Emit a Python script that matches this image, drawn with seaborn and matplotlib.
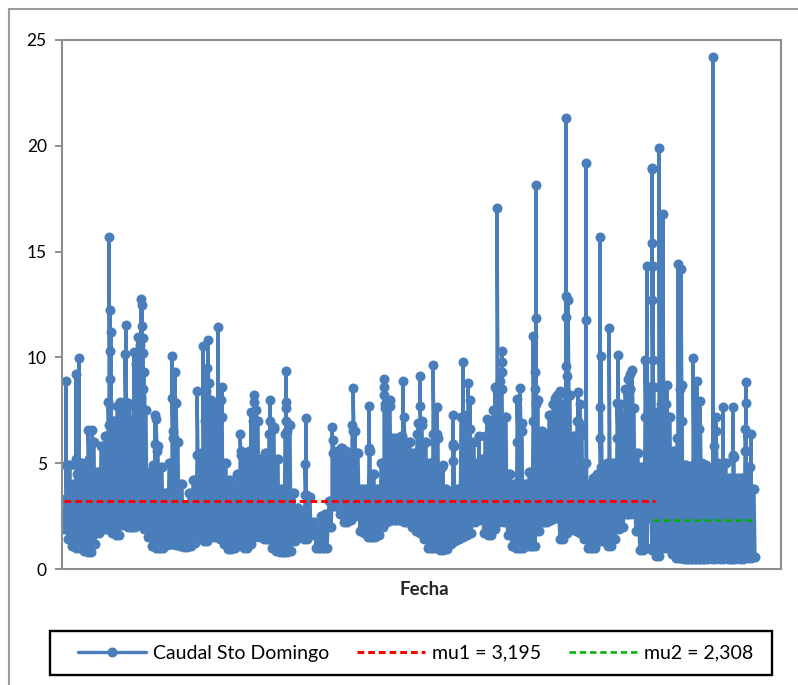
import numpy as np
import pandas as pd
import seaborn as sns
import matplotlib.pyplot as plt
from matplotlib.lines import Line2D
from matplotlib.patches import Rectangle

W, H = 798, 685
BLUE = "#4a7ebb"

# daily minima / maxima of the flow, one pair every 4 days
low_1 = [1.9,1.4,1.1,1.0,1.1,0.85,0.8,1.2,1.7,2.0,1.9,1.9,1.7,1.6,2.1,2.4,2.0,2.0,2.3,2.1,1.9,1.5,1.1,1.0,1.0,1.15,1.2,1.2,1.15,1.1,1.05,1.1,1.25,1.8,1.6,1.3,1.7,1.5,1.6,1.4,1.2,0.95,1.0]
high_1 = [3.3,4.9,4.0,4.5,5.0,4.8,5.2,6.0,4.6,5.8,6.3,6.8,7.0,7.7,7.4,7.2,7.8,7.0,7.5,8.5,7.5,4.6,4.9,5.8,4.8,3.6,5.0,6.2,6.0,4.0,3.0,3.6,4.2,5.4,5.5,7.0,7.5,6.5,7.6,7.2,5.0,4.2,3.9]
low_2 = [1.2,1.4,1.0,1.2,1.5,1.6,1.5,1.4,1.4,1.0,0.85,0.8,0.8,0.85,1.3,1.5,1.5,1.4,1.6,1.7,1.0,1.0,1.0,2.0,3.0,3.0,2.6,2.2,2.3,2.5,2.9,1.8,1.7,1.5,1.5,1.6,2.0,2.2,2.3,2.3,2.3,2.3,2.2]
high_2 = [4.5,5.4,5.5,5.6,7.0,7.0,5.2,5.5,6.4,6.6,5.2,3.8,6.4,6.8,3.6,2.9,2.6,3.5,3.4,2.2,1.9,2.5,2.6,3.2,5.5,5.6,5.7,5.6,5.2,6.5,5.5,3.8,3.8,5.6,4.5,3.8,5.0,7.6,7.7,6.2,6.2,6.3,6.0]
low_3 = [2.2,2.0,1.8,1.7,1.4,1.0,1.0,1.1,0.9,0.95,1.2,1.3,1.4,1.5,1.6,1.7,2.2,2.4,2.3,1.7,1.6,1.9,2.2,2.3,2.2,1.6,1.1,1.0,1.0,1.2,1.1,1.1,1.8,2.2,2.2,2.3,2.4,2.4,1.4,1.7,1.9,1.9,1.8]
high_3 = [6.0,5.5,6.4,6.8,6.0,5.0,6.4,6.2,4.8,3.8,3.5,5.8,3.8,7.2,7.2,6.6,6.0,5.0,5.2,6.3,7.0,7.5,8.4,8.5,7.2,4.5,4.0,6.0,6.5,4.0,4.6,7.0,8.0,6.5,6.4,7.3,7.8,8.2,7.8,8.3,8.2,6.3,7.0]
low_4 = [1.7,1.4,1.0,1.0,1.3,1.3,1.3,1.1,1.4,1.9,2.0,2.6,2.6,2.7,1.8,0.9,1.0,2.4,0.9,0.6,1.2,1.0,1.0,0.7,0.5,0.5,0.45,0.45,0.45,0.45,0.45,0.45,0.5,0.45,0.5,0.45,0.55,0.45,0.45,0.5,0.45,0.6,0.5,0.55]
high_4 = [6.4,5.0,4.0,4.3,4.5,4.8,4.7,5.0,5.0,6.2,7.0,7.8,8.5,7.6,5.5,4.8,7.2,8.6,8.6,7.4,7.8,7.8,7.2,5.6,6.2,7.0,4.9,4.6,4.9,5.0,5.0,4.9,4.7,4.8,5.0,4.9,5.0,4.3,5.3,4.3,4.3,5.6,4.8,3.8]

# flood peaks (day, flow)
peak_days_1 = [66,66,76,76,79,79,88,92,108,109,110,110,111,110,120,125,126,126,130,134,136,138,140,141,142,142,143,143,144,143,141,155,156,155,157,172,172,175,176,173,197,203,208,207,206,209,211,213,218,222,221,218]
peak_vals_1 = [8.9,4.9,9.2,5.2,9.95,4.7,6.55,6.55,7.9,15.7,12.25,10.3,11.2,9.0,7.9,10.15,11.55,7.9,7.8,10.25,9.7,10.95,10.6,12.75,12.5,11.5,10.9,10.2,9.3,8.5,8.1,7.3,7.1,5.9,5.6,10.05,8.1,9.3,7.85,6.5,8.4,10.55,10.8,9.5,8.4,8.8,8.0,7.9,11.45,8.6,8.0,7.4]
peak_days_2 = [240,241,254,254,251,256,270,270,273,274,286,286,286,286,287,305,306,306,332,333,353,352,355,369,369,384,384,384,385,390,403,404,401,420,420,418,422,433,434,437,437,443,453,453,453,463,468,470,466,479,487,490]
peak_vals_2 = [6.4,5.6,8.2,7.9,7.4,7.5,8.0,7.0,6.7,6.7,9.35,7.9,7.6,7.0,6.5,4.95,7.15,3.5,6.7,6.1,8.55,6.8,6.5,7.7,5.7,9.0,8.6,8.2,7.8,8.0,8.9,7.2,6.1,9.1,7.7,6.9,7.0,9.65,6.0,7.65,6.4,4.9,7.3,5.9,5.1,9.8,8.8,8.0,7.3,6.3,7.1,7.0]
peak_days_3 = [495,497,500,502,502,502,517,520,522,533,536,536,535,535,536,553,555,560,566,566,568,566,566,567,578,580,581,586,586,600,601,600,600,609,607,618,617,621,625,628,630,632,630]
peak_vals_3 = [8.6,17.05,8.9,10.3,9.8,9.3,8.05,8.55,6.9,11.0,18.15,11.85,9.3,8.5,7.8,7.8,8.1,8.4,21.3,12.9,12.7,11.9,9.6,9.1,8.35,7.8,6.8,19.2,11.75,15.7,10.05,7.65,6.2,11.4,5.0,10.1,7.85,7.8,8.5,9.0,9.2,9.4,8.5]
peak_days_4 = [645,647,652,652,652,653,652,653,653,659,663,667,678,681,680,682,693,697,700,699,713,714,716,716,713,723,733,733,746,746,745,751]
peak_vals_4 = [9.9,14.3,18.95,18.9,15.4,14.3,12.7,9.9,8.6,19.9,16.8,8.7,14.4,14.2,8.5,8.7,9.95,8.9,7.95,6.6,24.2,5.8,7.2,6.5,4.8,7.65,7.65,5.4,8.85,7.85,6.6,6.4]

mu1_days = [64, 655]
mu1_vals = [3.195, 3.195]
mu2_days = [653, 752]
mu2_vals = [2.308, 2.308]

y_ticks = [0, 5, 10, 15, 20, 25]
series_labels = ["Caudal Sto Domingo", "mu1 = 3,195", "mu2 = 2,308"]

low = low_1 + low_2 + low_3 + low_4
high = high_1 + high_2 + high_3 + high_4
# low, high, high, low, low ... so that the band comes out solid
base_a = np.column_stack([low, high]).ravel()
base_b = np.column_stack([high, low]).ravel()
days_a = 64 + 2*np.arange(len(base_a))
days_b = 65 + 2*np.arange(len(base_b))

days = np.concatenate([days_a, days_b, peak_days_1, peak_days_2, peak_days_3, peak_days_4])
vals = np.concatenate([base_a, base_b, peak_vals_1, peak_vals_2, peak_vals_3, peak_vals_4])
df = pd.DataFrame({"fecha": days, "caudal": vals}).sort_values("fecha", kind="mergesort")

sns.set_style("white")
plt.rcParams["font.family"] = ["Lato", "DejaVu Sans"]

fig = plt.figure(figsize=(W/100, H/100), dpi=100)
ax = fig.add_axes([62/W, 1-569/H, (781-62)/W, (569-40)/H])

sns.lineplot(data=df, x="fecha", y="caudal", sort=False, estimator=None, ax=ax, color=BLUE,
             linewidth=2.4, marker="o", markersize=7.2, markeredgewidth=0, legend=False)
sns.lineplot(x=mu1_days, y=mu1_vals, ax=ax, color="#ff0000", linewidth=2.2, dashes=(2.2, 1.3), legend=False)
sns.lineplot(x=mu2_days, y=mu2_vals, ax=ax, color="#00b000", linewidth=1.8, dashes=(2.6, 1.5), legend=False)

ax.set_xlim(62, 781)
ax.set_ylim(0, 25)
ax.set_yticks(y_ticks)
ax.set_xticks([])
ax.set_ylabel("")
ax.set_xlabel("Fecha", fontsize=13.5, fontweight="bold")
ax.xaxis.set_label_coords((424-62)/719, -12/529)
ax.tick_params(axis="y", left=True, length=5, width=1.3, color="#868686", labelsize=12.5, pad=6, labelcolor="black")
for s in ax.spines.values():
    s.set_color("#8e8e8e")
    s.set_linewidth(1.5)

# outer chart border, runs off the image at the bottom
fig.add_artist(Line2D([9/W, 9/W], [0, 1-9/H], color="#9a9a9a", lw=1.5))
fig.add_artist(Line2D([9/W, 1], [1-9/H, 1-9/H], color="#9a9a9a", lw=1.5))

fig.add_artist(Rectangle((50/W, 1-675/H), 722/W, 44/H, transform=fig.transFigure, fill=False,
                         edgecolor="black", linewidth=1.7))
handles = [
    Line2D([], [], color=BLUE, lw=2.4, marker="o", markersize=7.2, markeredgewidth=0),
    Line2D([], [], color="#ff0000", lw=2.2, dashes=(2.2, 1.3)),
    Line2D([], [], color="#00b000", lw=1.8, dashes=(2.6, 1.5)),
]
fig.legend(handles, series_labels, ncol=3, loc="center", bbox_to_anchor=(416/W, 1-653/H),
           frameon=False, fontsize=14, handlelength=3.5, handletextpad=0.36,
           columnspacing=1.43, borderaxespad=0, borderpad=0, labelcolor="black")

plt.savefig("out.png", dpi=100)
